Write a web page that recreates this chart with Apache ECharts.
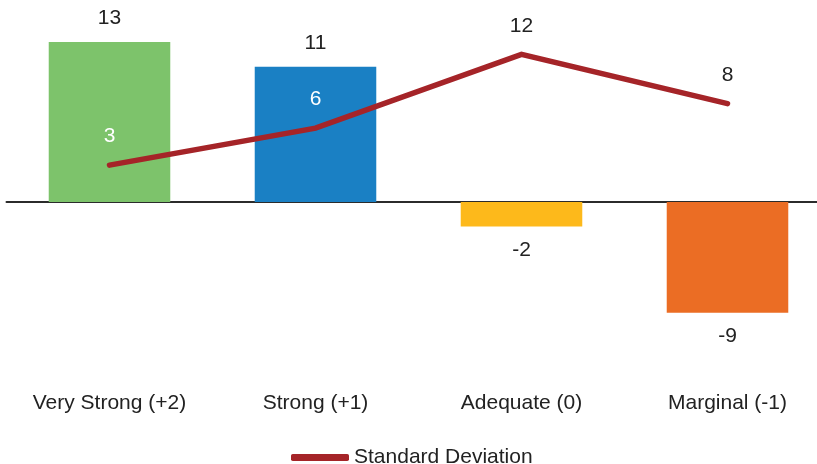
<!DOCTYPE html>
<html>
<head>
<meta charset="utf-8">
<script src="https://cdn.jsdelivr.net/npm/echarts@6/dist/echarts.min.js"></script>
<style>
  html, body { margin: 0; padding: 0; background: #ffffff; }
  #chart { width: 817px; height: 464px; }
</style>
</head>
<body>
<div id="chart"></div>
<script>
// Data
const categories = ['Very Strong (+2)', 'Strong (+1)', 'Adequate (0)', 'Marginal (-1)'];
const ratingValues = [13, 11, -2, -9];
const stdDeviation = [3, 6, 12, 8];
const seriesName = 'Standard Deviation';

// Styling
const barPalette = ['#7DC36B', '#1A80C4', '#FDB91B', '#EB6D24'];
const lineColor = '#A52428';
const lineLabelColors = ['#ffffff', '#ffffff', '#222222', '#222222'];
const FONT = '"Liberation Sans", Arial, sans-serif';

const chart = echarts.init(document.getElementById('chart'), null, { renderer: 'canvas' });

const barData = ratingValues.map((v, i) => ({
  value: v,
  itemStyle: { color: barPalette[i] },
  label: { position: v >= 0 ? 'top' : 'bottom' }
}));

const lineData = stdDeviation.map((v, i) => ({
  value: v,
  label: { color: lineLabelColors[i] }
}));

chart.setOption({
  animation: false,
  backgroundColor: '#ffffff',
  textStyle: { fontFamily: FONT },
  grid: {
    left: 6.5, top: 29.8, width: 824, height: 295.2,
    containLabel: false, outerBoundsMode: 'none'
  },
  xAxis: [
    {
      // zero baseline
      type: 'category',
      data: categories,
      axisLine: { show: true, onZero: true, lineStyle: { color: '#2b2b2b', width: 2 } },
      axisTick: { show: false },
      axisLabel: { show: false },
      splitLine: { show: false }
    },
    {
      // category names along the bottom
      type: 'category',
      data: categories,
      position: 'bottom',
      axisLine: { show: false, onZero: false },
      axisTick: { show: false },
      axisLabel: { show: true, margin: 68, color: '#222222', fontSize: 21, fontFamily: FONT },
      splitLine: { show: false }
    }
  ],
  yAxis: {
    type: 'value',
    min: -10,
    max: 14,
    show: false,
    splitLine: { show: false }
  },
  legend: {
    data: [{ name: seriesName, icon: 'roundRect' }],
    left: 286,
    top: 442,
    itemWidth: 58,
    itemHeight: 7,
    textStyle: { color: '#222222', fontSize: 21, fontFamily: FONT }
  },
  series: [
    {
      name: 'Rating',
      type: 'bar',
      xAxisIndex: 0,
      data: barData,
      barCategoryGap: '41%',
      label: {
        show: true,
        distance: 13,
        color: '#222222',
        fontSize: 21,
        fontFamily: FONT
      },
      z: 2
    },
    {
      name: seriesName,
      type: 'line',
      xAxisIndex: 0,
      data: lineData,
      symbol: 'circle',
      symbolSize: 0,
      showSymbol: true,
      itemStyle: { color: lineColor },
      lineStyle: { color: lineColor, width: 5.5, cap: 'round', join: 'miter' },
      label: {
        show: true,
        position: 'top',
        distance: 18,
        fontSize: 21,
        fontFamily: FONT
      },
      z: 3
    }
  ]
});
</script>
</body>
</html>
